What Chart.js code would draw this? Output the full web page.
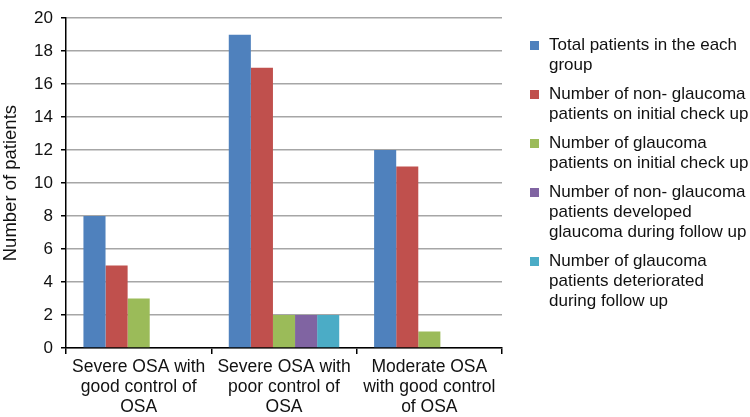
<!DOCTYPE html>
<html>
<head>
<meta charset="utf-8">
<script src="https://cdn.jsdelivr.net/npm/chart.js@4/dist/chart.umd.min.js"></script>
<style>
  html, body { margin: 0; padding: 0; background: #fff; }
  #wrap { position: relative; width: 750px; height: 417px; font-family: "Liberation Sans", Arial, sans-serif; }
  #c { position: absolute; left: 0; top: 0; }
  #legend { position: absolute; left: 530px; top: 35px; width: 220px; font-size: 17px; line-height: 20px; color: #111; }
  .item { position: relative; padding-left: 19px; margin-bottom: 9px; white-space: nowrap; }
  .sw { position: absolute; left: 0; top: 6px; width: 9px; height: 9px; }
</style>
</head>
<body>
<div id="wrap">
  <canvas id="c" width="750" height="417"></canvas>
  <div id="legend"></div>
</div>
<script>
const categories = [
  ["Severe OSA with", "good control of", "OSA"],
  ["Severe OSA with", "poor control of", "OSA"],
  ["Moderate OSA", "with good control", "of OSA"]
];
const seriesLabels = [
  ["Total patients in the each", "group"],
  ["Number of non- glaucoma", "patients on initial check up"],
  ["Number of glaucoma", "patients on initial check up"],
  ["Number of non- glaucoma", "patients developed", "glaucoma during follow up"],
  ["Number of glaucoma", "patients  deteriorated", "during follow up"]
];
const totalPatients = [8, 19, 12];
const nonGlaucomaInitial = [5, 17, 11];
const glaucomaInitial = [3, 2, 1];
const nonGlaucomaDeveloped = [0, 2, 0];
const glaucomaDeteriorated = [0, 2, 0];
const seriesColors = ["#4F81BD", "#C0504D", "#9BBB59", "#8064A2", "#4BACC6"];
const yTicks = [0, 2, 4, 6, 8, 10, 12, 14, 16, 18, 20];

const seriesValues = [totalPatients, nonGlaucomaInitial, glaucomaInitial, nonGlaucomaDeveloped, glaucomaDeteriorated];

const datasets = seriesValues.map((vals, i) => ({
  label: seriesLabels[i].join(" "),
  data: vals,
  backgroundColor: seriesColors[i],
  borderWidth: 0,
  categoryPercentage: 0.76,
  barPercentage: 1.0
}));

const FONT = "'Liberation Sans', Arial, sans-serif";

new Chart(document.getElementById('c'), {
  type: 'bar',
  data: { labels: categories, datasets },
  options: {
    responsive: false,
    animation: false,
    layout: { padding: { left: 0, right: 248, top: 0, bottom: 0 } },
    plugins: { legend: { display: false }, tooltip: { enabled: false } },
    scales: {
      x: {
        grid: { offset: true, drawOnChartArea: false, tickLength: 6, tickColor: '#000', lineWidth: 1.5 },
        border: { color: '#000', width: 1.5 },
        ticks: { color: '#111', padding: 3, maxRotation: 0, autoSkip: false, font: { family: FONT, size: 17.5, lineHeight: 1.15 } },
        afterFit: (s) => { s.height = 69; }
      },
      y: {
        min: 0, max: 20,
        afterBuildTicks: (s) => { s.ticks = yTicks.map(v => ({ value: v })); },
        grid: { color: '#a6a6a6', lineWidth: 1.5, tickLength: 5, tickColor: '#000' },
        border: { color: '#000', width: 1.5 },
        ticks: { color: '#111', padding: 8, font: { family: FONT, size: 17 } },
        title: { display: true, text: 'Number of patients', color: '#111', padding: { top: 0, bottom: 4 }, font: { family: FONT, size: 18.5 } },
        afterFit: (s) => { s.width = 66; }
      }
    }
  }
});

const legend = document.getElementById('legend');
seriesLabels.forEach((lines, i) => {
  const item = document.createElement('div');
  item.className = 'item';
  const sw = document.createElement('span');
  sw.className = 'sw';
  sw.style.background = seriesColors[i];
  item.appendChild(sw);
  lines.forEach((ln, j) => {
    if (j) item.appendChild(document.createElement('br'));
    item.appendChild(document.createTextNode(ln));
  });
  legend.appendChild(item);
});
</script>
</body>
</html>
